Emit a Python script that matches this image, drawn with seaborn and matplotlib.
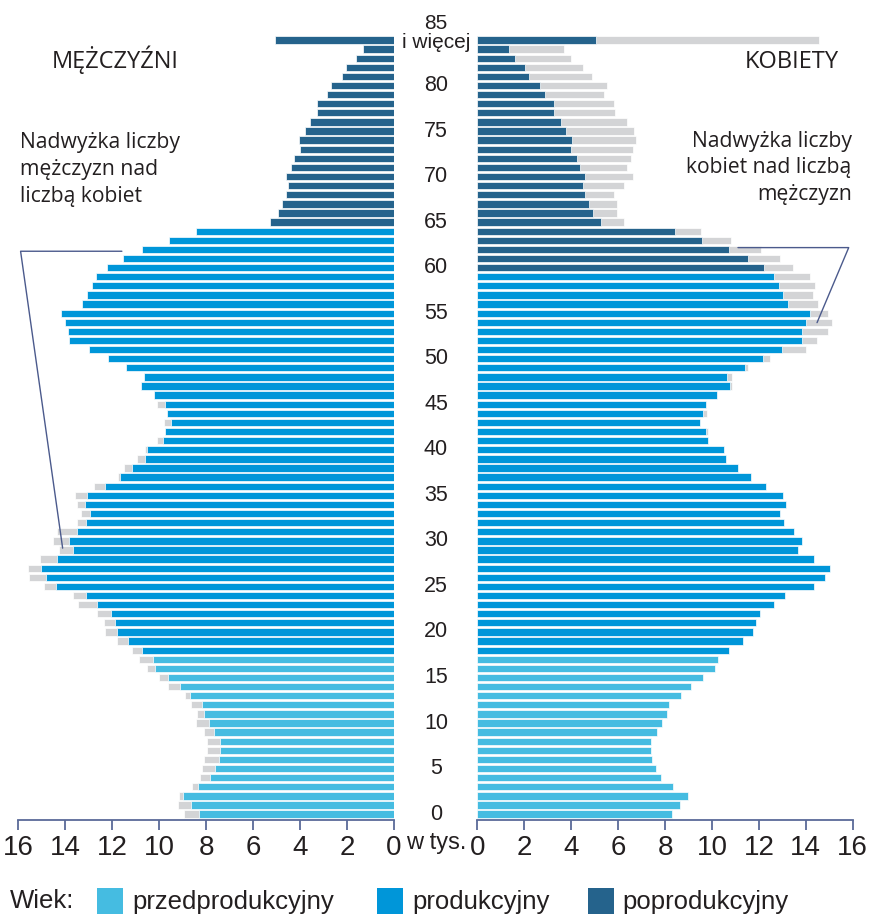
import numpy as np
import pandas as pd
import matplotlib
matplotlib.use("Agg")
import matplotlib.pyplot as plt
import seaborn as sns
from matplotlib.transforms import blended_transform_factory
from matplotlib.patches import Rectangle
from matplotlib.lines import Line2D

# ---------------- data (thousands of people) ----------------
ages = list(range(86))  # 85 = "85 i więcej"
male = [8.95, 9.21, 9.16, 8.60, 8.26, 8.19, 8.09, 7.96, 7.96, 8.10,
        8.43, 8.39, 8.65, 8.90, 9.63, 10.02, 10.49, 10.86, 11.16, 11.77,
        12.31, 12.32, 12.65, 13.43, 13.66, 14.89, 15.55, 15.57, 15.08, 14.25,
        14.51, 14.34, 13.47, 13.30, 13.51, 13.59, 12.78, 11.74, 11.49, 10.93,
        10.58, 10.08, 9.75, 9.77, 9.64, 10.08, 10.23, 10.75, 10.63, 11.41,
        12.19, 13.00, 13.84, 13.86, 13.99, 14.19, 13.26, 13.05, 12.87, 12.66,
        12.23, 11.52, 10.74, 9.56, 8.43, 5.26, 4.94, 4.77, 4.60, 4.49,
        4.60, 4.39, 4.25, 4.00, 4.05, 3.78, 3.58, 3.27, 3.27, 2.87,
        2.69, 2.22, 2.04, 1.62, 1.34, 5.07]
female = [8.31, 8.63, 8.98, 8.35, 7.84, 7.61, 7.46, 7.39, 7.42, 7.64,
          7.88, 8.08, 8.15, 8.70, 9.10, 9.60, 10.15, 10.27, 10.74, 11.33,
          11.77, 11.88, 12.03, 12.63, 13.12, 14.37, 14.82, 15.04, 14.33, 13.65,
          13.84, 13.51, 13.09, 12.92, 13.16, 13.05, 12.31, 11.67, 11.13, 10.61,
          10.53, 9.85, 9.83, 9.50, 9.80, 9.76, 10.23, 10.86, 10.87, 11.55,
          12.48, 14.00, 14.47, 14.94, 15.13, 14.96, 14.53, 14.32, 14.39, 14.18,
          13.47, 12.90, 12.08, 10.81, 9.52, 6.24, 5.95, 5.94, 5.84, 6.24,
          6.62, 6.39, 6.55, 6.62, 6.75, 6.68, 6.39, 5.87, 5.83, 5.41,
          5.52, 4.90, 4.52, 3.99, 3.70, 14.58]
group_names = ["przedprodukcyjny", "produkcyjny", "poprodukcyjny"]
male_group = [group_names[0] if a < 18 else group_names[1] if a < 65 else group_names[2] for a in ages]
female_group = [group_names[0] if a < 18 else group_names[1] if a < 60 else group_names[2] for a in ages]
age_ticks = list(range(0, 86, 5))
x_ticks = list(range(0, 17, 2))

palette = {"przedprodukcyjny": "#45BCE1", "produkcyjny": "#0096D9", "poprodukcyjny": "#25638C"}
gray = "#D3D4D6"
axis_col = "#5A6A98"
text_col = "#231F20"

sns.set_theme(style="white")
plt.rcParams["font.family"] = ["Liberation Sans", "DejaVu Sans"]

W, H = 872, 915
fig = plt.figure(figsize=(W / 100, H / 100), dpi=100)
y_top_px, y_bot_px = 35.4, 820.0
axL = fig.add_axes([18 / W, 1 - y_bot_px / H, 376 / W, (y_bot_px - y_top_px) / H])
axR = fig.add_axes([477.3 / W, 1 - y_bot_px / H, 375.4 / W, (y_bot_px - y_top_px) / H])

common = np.minimum(male, female)
dfL = pd.DataFrame({"wiek": ages, "ogolem": male, "wspolne": common, "grupa": male_group})
dfR = pd.DataFrame({"wiek": ages, "ogolem": female, "wspolne": common, "grupa": female_group})

for ax, df in ((axL, dfL), (axR, dfR)):
    sns.barplot(data=df, x="ogolem", y="wiek", orient="y", native_scale=True,
                color=gray, saturation=1, width=0.8, edgecolor="white", linewidth=0.5,
                errorbar=None, ax=ax)
    sns.barplot(data=df, x="wspolne", y="wiek", hue="grupa", palette=palette,
                hue_order=group_names, orient="y", native_scale=True, dodge=False,
                saturation=1, width=0.8, edgecolor="white", linewidth=0.5, errorbar=None,
                legend=False, ax=ax)
    ax.set_ylim(-0.65, 85.5)
    ax.set_yticks([])
    ax.set_xticks(x_ticks)
    ax.set_xlabel("")
    ax.set_ylabel("")
    sns.despine(ax=ax, left=True, top=True, right=True)
    ax.spines["bottom"].set_color(axis_col)
    ax.spines["bottom"].set_linewidth(1.3)
    ax.tick_params(axis="x", direction="out", length=7.5, width=1.3, color=axis_col,
                   labelsize=20, pad=3, labelcolor=text_col, bottom=True)
    ax.set_facecolor("none")
    ax.grid(False)

axL.set_xlim(16, 0)
axR.set_xlim(0, 16)

# central age labels
trans = blended_transform_factory(fig.transFigure, axL.transData)
cx = 436 / W
for a in age_ticks:
    if a == 85:
        axL.text(cx, 86.85, "85", transform=trans, ha="center", va="center",
                 fontsize=15, color=text_col, clip_on=False)
        axL.text(cx, 84.75, "i więcej", transform=trans, ha="center", va="center",
                 fontsize=15, color=text_col, clip_on=False)
    else:
        axL.text(cx, a, str(a), transform=trans, ha="center", va="center",
                 fontsize=15.5, color=text_col, clip_on=False)

fig.text(cx, 1 - 843 / H, "w tys.", ha="center", va="center", fontsize=17,
         color=text_col)

# titles
tfont = ["Open Sans", "DejaVu Sans"]
fig.text(52 / W, 1 - 68.3 / H, "MĘŻCZYŹNI", ha="left", va="baseline", fontsize=17,
         color=text_col, family=tfont)
fig.text(839 / W, 1 - 68.3 / H, "KOBIETY", ha="right", va="baseline", fontsize=17,
         color=text_col, family=tfont)

for txt, yb in zip(["Nadwyżka liczby", "mężczyzn nad", "liczbą kobiet"], [148.3, 175.0, 201.7]):
    fig.text(20 / W, 1 - yb / H, txt, ha="left", va="baseline", fontsize=15.2,
             color=text_col, family=tfont)
for txt, yb in zip(["Nadwyżka liczby", "kobiet nad liczbą", "mężczyzn"], [146.7, 173.3, 200.0]):
    fig.text(851.7 / W, 1 - yb / H, txt, ha="right", va="baseline", fontsize=15.2,
             color=text_col, family=tfont)

# pointer lines (data coordinates)
line_col = "#4B5A8C"
axL.add_line(Line2D([11.58, 15.89, 14.1], [61.8, 61.8, 29.2], color=line_col, lw=1.0, clip_on=False))
axR.add_line(Line2D([11.11, 15.83, 14.48], [62.2, 62.2, 53.96], color=line_col, lw=1.0, clip_on=False))

# legend
yb = 1 - 908.5 / H
fig.text(10 / W, yb, "Wiek:", ha="left", va="baseline", fontsize=18.5, color=text_col)
for (x0, xt), name in zip([(97, 132), (377, 412), (588, 622)], group_names):
    fig.patches.append(Rectangle((x0 / W, 1 - 914 / H), 26 / W, 26 / H,
                                 transform=fig.transFigure, color=palette[name], lw=0))
    fig.text(xt / W, yb, name, ha="left", va="baseline", fontsize=18.5, color=text_col)

fig.savefig("out.png", dpi=100)
